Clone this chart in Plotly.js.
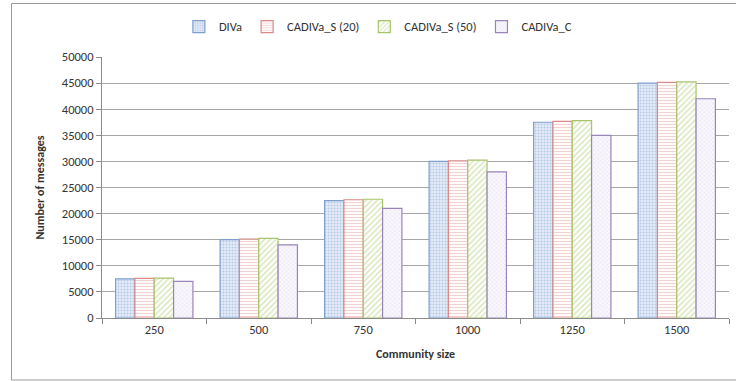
<!DOCTYPE html>
<html>
<head>
<meta charset="utf-8">
<script src="https://cdn.plot.ly/plotly-3.0.1.min.js"></script>
<style>
  html, body { margin: 0; padding: 0; background: #ffffff; }
  #chart { width: 736px; height: 381px; }
</style>
</head>
<body>
<div id="chart"></div>
<script>
// Community sizes on the x axis
const communitySizes = ['250', '500', '750', '1000', '1250', '1500'];

// Number of messages per protocol variant
const diva = [7500, 15000, 22500, 30000, 37500, 45000];
const cadivaS20 = [7600, 15100, 22650, 30100, 37650, 45150];
const cadivaS50 = [7650, 15250, 22750, 30250, 37800, 45250];
const cadivaC = [7000, 14000, 21000, 28000, 35000, 42000];

const seriesNames = ['DIVa', 'CADIVa_S (20)', 'CADIVa_S (50)', 'CADIVa_C'];

const font = 'Carlito, Lato, "Open Sans", sans-serif';

function barTrace(name, values, line, pattern) {
  return {
    type: 'bar',
    name: name,
    x: communitySizes,
    y: values,
    marker: {
      color: pattern.bgcolor,
      line: { color: line, width: 1.2 },
      pattern: pattern
    },
    hoverinfo: 'x+y+name'
  };
}

const traces = [
  barTrace(seriesNames[0], diva, '#7f9fcf',
    { shape: '.', fgcolor: '#8aa8d6', bgcolor: '#e3ebf6', size: 3, solidity: 0.35, fillmode: 'overlay' }),
  barTrace(seriesNames[1], cadivaS20, '#d98a88',
    { shape: '-', fgcolor: '#e8a6a4', bgcolor: '#ffffff', size: 3, solidity: 0.4, fillmode: 'overlay' }),
  barTrace(seriesNames[2], cadivaS50, '#a9c46e',
    { shape: '/', fgcolor: '#b6d07e', bgcolor: '#ffffff', size: 4, solidity: 0.4, fillmode: 'overlay' }),
  barTrace(seriesNames[3], cadivaC, '#9a84bc',
    { shape: 'x', fgcolor: '#cfc3e2', bgcolor: '#faf8fd', size: 3, solidity: 0.3, fillmode: 'overlay' })
];

const layout = {
  width: 736,
  height: 381,
  margin: { l: 102, r: 7, t: 57, b: 63, autoexpand: false },
  paper_bgcolor: '#ffffff',
  plot_bgcolor: '#ffffff',
  font: { family: font, size: 12.5, color: '#333333' },
  barmode: 'group',
  bargap: 0.26,
  bargroupgap: 0,
  showlegend: true,
  legend: {
    orientation: 'h',
    x: 0.44, xanchor: 'center',
    y: 1.115, yanchor: 'middle',
    font: { family: font, size: 12.5, color: '#333333' },
    itemwidth: 30,
    tracegroupgap: 0
  },
  xaxis: {
    type: 'category',
    tickson: 'boundaries',
    ticks: 'outside',
    ticklen: 5,
    tickcolor: '#8c8c8c',
    showline: true,
    linecolor: '#8c8c8c',
    linewidth: 1,
    showgrid: false,
    tickfont: { family: font, size: 12.5, color: '#333333' },
    title: { text: '<b>Community size</b>', font: { family: font, size: 12, color: '#333333' }, standoff: 13 }
  },
  yaxis: {
    range: [0, 50000],
    dtick: 5000,
    ticks: 'outside',
    ticklen: 5,
    tickcolor: '#8c8c8c',
    showline: true,
    linecolor: '#8c8c8c',
    linewidth: 1,
    showgrid: true,
    gridcolor: '#a6a6a6',
    gridwidth: 1,
    zeroline: false,
    tickformat: 'd',
    tickfont: { family: font, size: 12.5, color: '#333333' },
    title: { text: '<b>Number of messages</b>', font: { family: font, size: 12, color: '#333333' }, standoff: 14 }
  },
  shapes: [
    {
      type: 'rect', xref: 'paper', yref: 'paper',
      x0: -0.1443, x1: 1.02, y0: -0.2375, y1: 1.205,
      line: { color: '#9a9a9a', width: 1 },
      fillcolor: 'rgba(0,0,0,0)',
      layer: 'below'
    }
  ]
};

Plotly.newPlot('chart', traces, layout, { displayModeBar: false, staticPlot: true });
</script>
</body>
</html>
